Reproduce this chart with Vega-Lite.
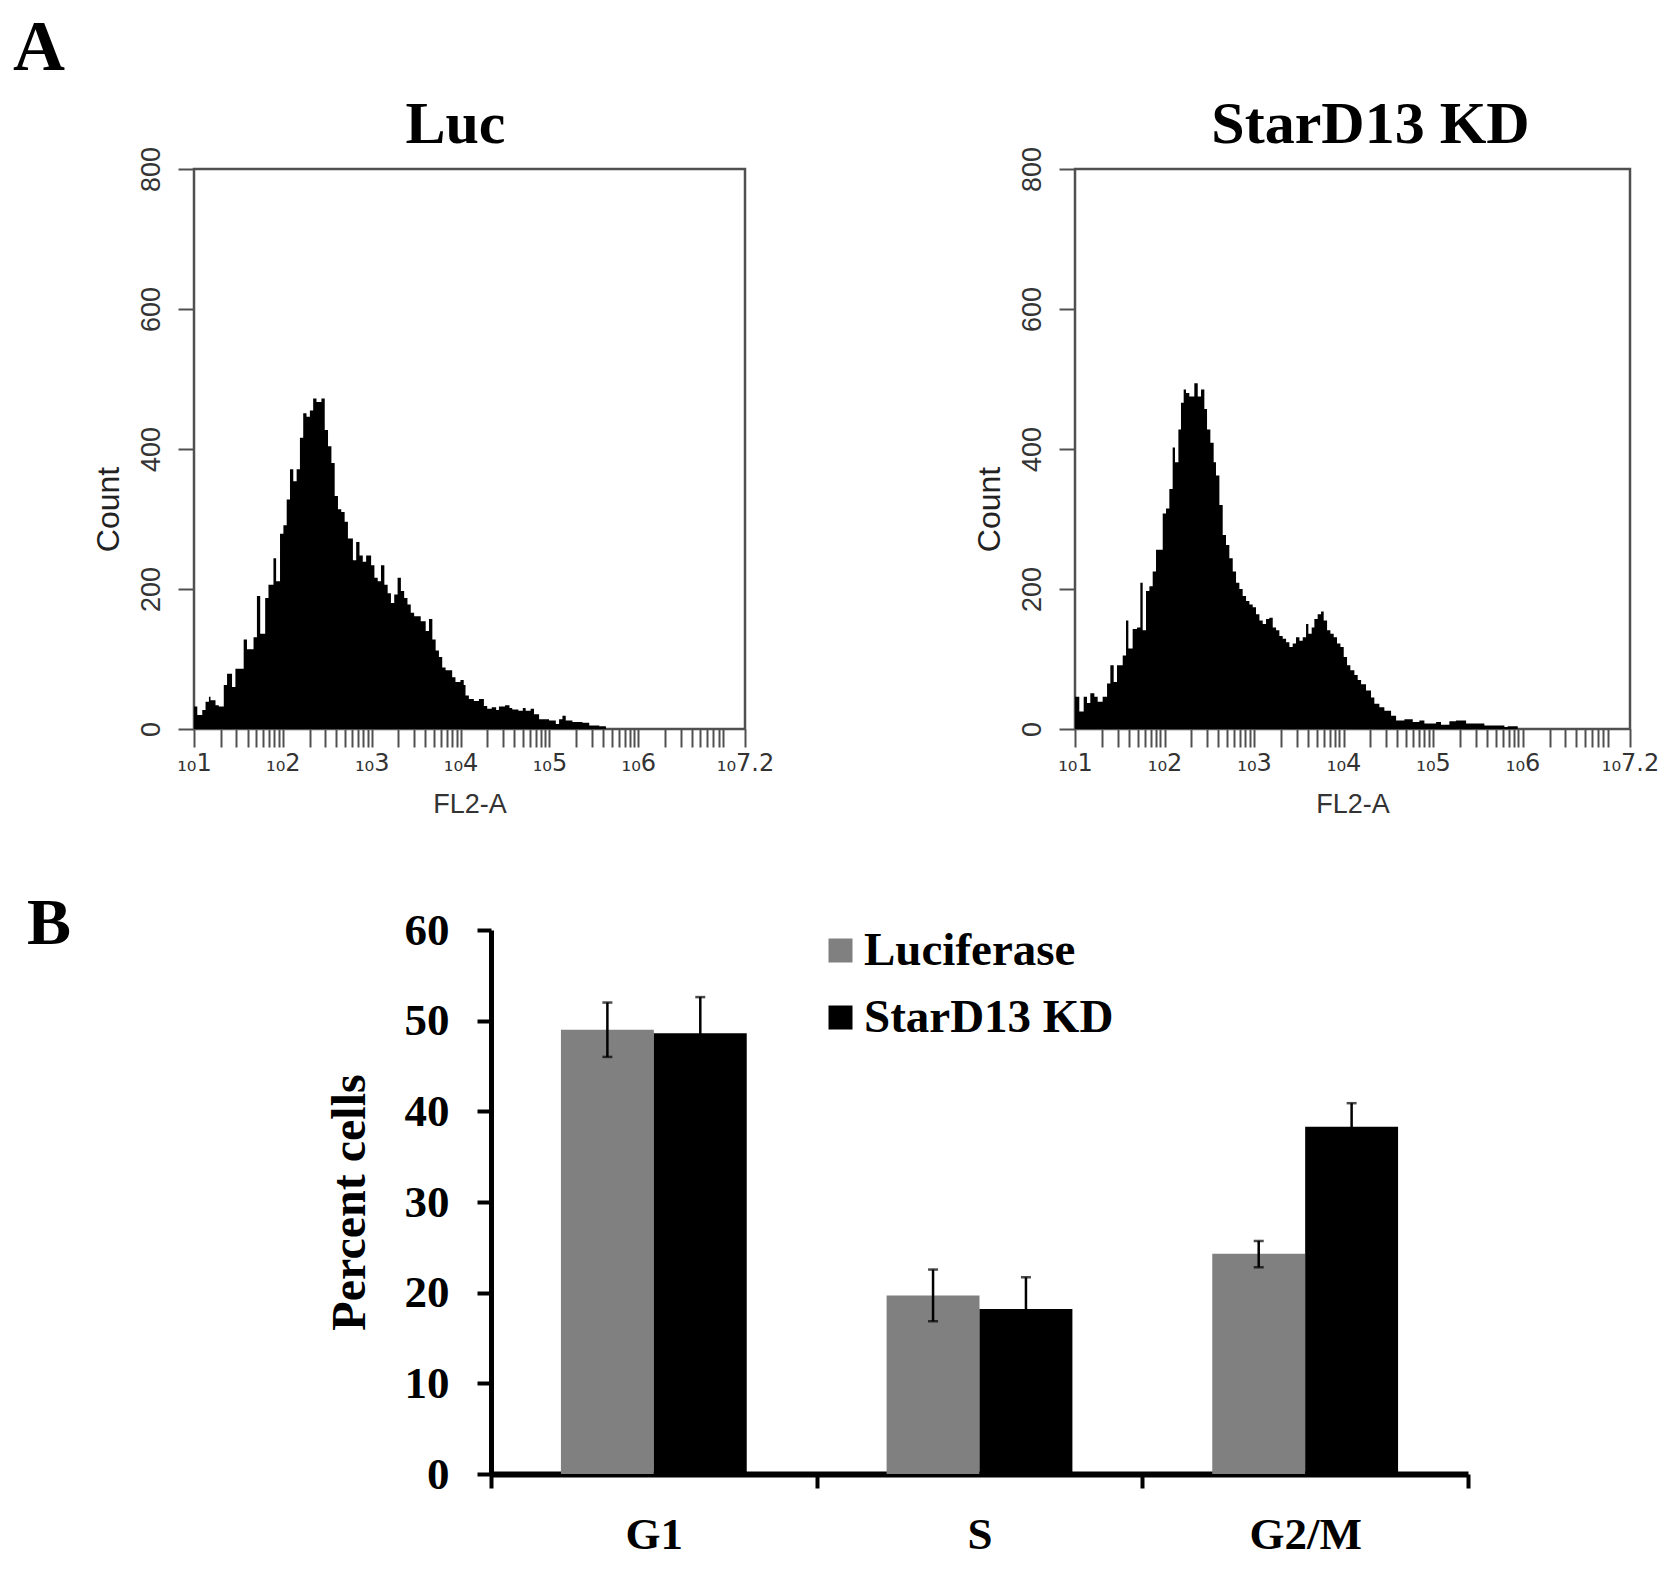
{
  "$schema": "https://vega.github.io/schema/vega-lite/v6.json",
  "background": "white",
  "padding": {"left": 13, "top": 12, "right": 5, "bottom": 5},
  "config": {"view": {"stroke": null}, "font": "Liberation Serif"},
  "datasets": {
    "luc": [
      {"u":1.000,"c":32},{"u":1.037,"c":20},{"u":1.093,"c":27},{"u":1.130,"c":39},{"u":1.168,"c":46},{"u":1.186,"c":41},{"u":1.242,"c":34},{"u":1.279,"c":32},{"u":1.335,"c":63},{"u":1.372,"c":79},{"u":1.428,"c":60},{"u":1.466,"c":86},{"u":1.559,"c":128},{"u":1.596,"c":114},{"u":1.670,"c":131},{"u":1.708,"c":190},{"u":1.745,"c":136},{"u":1.801,"c":187},{"u":1.838,"c":206},{"u":1.894,"c":244},{"u":1.924,"c":211},{"u":1.968,"c":279},{"u":2.006,"c":291},{"u":2.043,"c":328},{"u":2.080,"c":371},{"u":2.117,"c":354},{"u":2.155,"c":371},{"u":2.192,"c":416},{"u":2.229,"c":451},{"u":2.266,"c":446},{"u":2.304,"c":455},{"u":2.341,"c":472},{"u":2.378,"c":467},{"u":2.434,"c":472},{"u":2.471,"c":427},{"u":2.508,"c":404},{"u":2.546,"c":380},{"u":2.583,"c":333},{"u":2.620,"c":314},{"u":2.657,"c":310},{"u":2.695,"c":296},{"u":2.732,"c":272},{"u":2.788,"c":241},{"u":2.825,"c":267},{"u":2.862,"c":248},{"u":2.899,"c":239},{"u":2.937,"c":248},{"u":2.993,"c":234},{"u":3.030,"c":216},{"u":3.067,"c":211},{"u":3.104,"c":234},{"u":3.142,"c":206},{"u":3.179,"c":194},{"u":3.216,"c":180},{"u":3.253,"c":192},{"u":3.291,"c":216},{"u":3.328,"c":197},{"u":3.365,"c":187},{"u":3.402,"c":178},{"u":3.439,"c":166},{"u":3.477,"c":161},{"u":3.551,"c":154},{"u":3.607,"c":140},{"u":3.644,"c":157},{"u":3.682,"c":128},{"u":3.719,"c":112},{"u":3.756,"c":103},{"u":3.793,"c":88},{"u":3.831,"c":84},{"u":3.905,"c":74},{"u":3.942,"c":67},{"u":3.998,"c":70},{"u":4.035,"c":63},{"u":4.055,"c":48},{"u":4.093,"c":43},{"u":4.149,"c":40},{"u":4.206,"c":43},{"u":4.262,"c":33},{"u":4.299,"c":29},{"u":4.350,"c":31},{"u":4.400,"c":27},{"u":4.431,"c":32},{"u":4.500,"c":34},{"u":4.550,"c":30},{"u":4.581,"c":28},{"u":4.650,"c":26},{"u":4.700,"c":30},{"u":4.732,"c":26},{"u":4.788,"c":29},{"u":4.826,"c":21},{"u":4.883,"c":14},{"u":4.995,"c":12},{"u":5.071,"c":7},{"u":5.108,"c":14},{"u":5.146,"c":19},{"u":5.183,"c":12},{"u":5.258,"c":10},{"u":5.371,"c":9},{"u":5.447,"c":5},{"u":5.560,"c":4},{"u":5.635,"c":0},{"u":7.2,"c":0}
    ],
    "kd": [
      {"u":1.000,"c":46},{"u":1.048,"c":25},{"u":1.097,"c":46},{"u":1.134,"c":37},{"u":1.171,"c":51},{"u":1.216,"c":46},{"u":1.253,"c":39},{"u":1.309,"c":46},{"u":1.358,"c":65},{"u":1.395,"c":91},{"u":1.432,"c":67},{"u":1.469,"c":91},{"u":1.533,"c":105},{"u":1.570,"c":155},{"u":1.596,"c":115},{"u":1.644,"c":143},{"u":1.693,"c":145},{"u":1.730,"c":209},{"u":1.756,"c":141},{"u":1.793,"c":197},{"u":1.831,"c":204},{"u":1.868,"c":225},{"u":1.905,"c":256},{"u":1.942,"c":256},{"u":1.980,"c":308},{"u":2.017,"c":315},{"u":2.054,"c":343},{"u":2.091,"c":402},{"u":2.117,"c":381},{"u":2.155,"c":428},{"u":2.184,"c":466},{"u":2.214,"c":485},{"u":2.240,"c":480},{"u":2.277,"c":475},{"u":2.333,"c":494},{"u":2.371,"c":475},{"u":2.408,"c":485},{"u":2.445,"c":457},{"u":2.475,"c":428},{"u":2.512,"c":409},{"u":2.549,"c":381},{"u":2.575,"c":362},{"u":2.613,"c":320},{"u":2.650,"c":277},{"u":2.687,"c":263},{"u":2.724,"c":244},{"u":2.762,"c":225},{"u":2.799,"c":209},{"u":2.836,"c":200},{"u":2.873,"c":190},{"u":2.911,"c":183},{"u":2.948,"c":178},{"u":2.985,"c":174},{"u":3.022,"c":164},{"u":3.060,"c":155},{"u":3.097,"c":150},{"u":3.134,"c":157},{"u":3.171,"c":159},{"u":3.209,"c":145},{"u":3.246,"c":141},{"u":3.283,"c":133},{"u":3.320,"c":129},{"u":3.358,"c":124},{"u":3.395,"c":117},{"u":3.432,"c":122},{"u":3.469,"c":131},{"u":3.507,"c":126},{"u":3.544,"c":131},{"u":3.581,"c":150},{"u":3.607,"c":136},{"u":3.644,"c":145},{"u":3.674,"c":157},{"u":3.711,"c":164},{"u":3.749,"c":168},{"u":3.778,"c":155},{"u":3.816,"c":141},{"u":3.853,"c":136},{"u":3.890,"c":131},{"u":3.927,"c":122},{"u":3.965,"c":117},{"u":4.002,"c":103},{"u":4.039,"c":91},{"u":4.076,"c":84},{"u":4.121,"c":77},{"u":4.158,"c":70},{"u":4.196,"c":64},{"u":4.251,"c":55},{"u":4.307,"c":45},{"u":4.344,"c":36},{"u":4.400,"c":31},{"u":4.456,"c":26},{"u":4.531,"c":19},{"u":4.587,"c":12},{"u":4.680,"c":14},{"u":4.773,"c":10},{"u":4.847,"c":12},{"u":4.903,"c":8},{"u":5.034,"c":10},{"u":5.089,"c":6},{"u":5.182,"c":11},{"u":5.257,"c":12},{"u":5.369,"c":8},{"u":5.573,"c":5},{"u":5.797,"c":3},{"u":5.834,"c":4},{"u":5.946,"c":0},{"u":7.2,"c":0}
    ],
    "bars": [
      {"phase":"G1","group":"Luciferase","value":49.0,"lo":46.0,"hi":52.0},
      {"phase":"G1","group":"StarD13 KD","value":48.6,"lo":44.6,"hi":52.6},
      {"phase":"S","group":"Luciferase","value":19.7,"lo":16.85,"hi":22.55},
      {"phase":"S","group":"StarD13 KD","value":18.2,"lo":14.7,"hi":21.7},
      {"phase":"G2/M","group":"Luciferase","value":24.3,"lo":22.8,"hi":25.7},
      {"phase":"G2/M","group":"StarD13 KD","value":38.3,"lo":35.7,"hi":40.9}
    ]
  },
  "spacing": 72,
  "resolve": {"legend": {"color": "independent"}, "scale": {"color": "independent"}},
  "vconcat": [
    {
      "title": {"text": "A", "anchor": "start", "frame": "group", "fontSize": 72, "font": "Liberation Serif", "fontWeight": "bold", "color": "black", "dx": -181, "offset": 9},
      "spacing": 196,
      "hconcat": [
        {
          "width": 551, "height": 560,
          "title": {"text": "Luc", "fontSize": 60, "font": "Liberation Serif", "fontWeight": "bold", "color": "black", "anchor": "middle", "dx": -14, "offset": -57, "baseline": "alphabetic"},
          "view": {"stroke": "#505050", "strokeWidth": 2.5},
          "data": {"name": "luc"},
          "mark": {"type": "area", "interpolate": "step-after", "color": "black"},
          "encoding": {
            "x": {"field": "u", "type": "quantitative", "scale": {"domain": [1, 7.2], "nice": false, "zero": false},
              "axis": {"title": "FL2-A", "values": [1,1.301,1.477,1.602,1.699,1.778,1.845,1.903,1.954,2,2.301,2.477,2.602,2.699,2.778,2.845,2.903,2.954,3,3.301,3.477,3.602,3.699,3.778,3.845,3.903,3.954,4,4.301,4.477,4.602,4.699,4.778,4.845,4.903,4.954,5,5.301,5.477,5.602,5.699,5.778,5.845,5.903,5.954,6,6.301,6.477,6.602,6.699,6.778,6.845,6.903,6.954,7.2],
                "labelExpr": "datum.value == 7.2 ? '₁₀7.2' : (datum.value == floor(datum.value) ? '₁₀' + datum.value : '')",
                "domain": false, "grid": false, "tickColor": "#505050", "tickWidth": 2, "tickSize": 18,
                "labelFont": "DejaVu Sans", "labelFontSize": 24, "labelColor": "#333", "labelPadding": 4, "labelFlush": false, "labelOverlap": false,
                "titleFont": "Liberation Sans", "titleFontSize": 27, "titleFontWeight": "normal", "titleColor": "#333", "titlePadding": 16}},
            "y": {"field": "c", "type": "quantitative", "scale": {"domain": [0, 800], "nice": false},
              "axis": {"title": "Count", "values": [0,200,400,600,800], "domain": false, "grid": false, "tickColor": "#505050", "tickWidth": 2, "tickSize": 16,
                "labelFont": "Liberation Sans", "labelFontSize": 27, "labelAngle": 270, "labelAlign": "center", "labelBaseline": "alphabetic", "labelPadding": 19, "labelColor": "#333",
                "titleFont": "Liberation Sans", "titleFontSize": 32, "titleFontWeight": "normal", "titleColor": "#222", "titleAngle": 270, "titleX": -86, "titleY": 340, "titleAlign": "center", "titleBaseline": "middle"}}
          }
        },
        {
          "width": 555, "height": 560,
          "title": {"text": "StarD13 KD", "fontSize": 60, "font": "Liberation Serif", "fontWeight": "bold", "color": "black", "anchor": "middle", "dx": 18, "offset": -57, "baseline": "alphabetic"},
          "view": {"stroke": "#505050", "strokeWidth": 2.5},
          "data": {"name": "kd"},
          "mark": {"type": "area", "interpolate": "step-after", "color": "black"},
          "encoding": {
            "x": {"field": "u", "type": "quantitative", "scale": {"domain": [1, 7.2], "nice": false, "zero": false},
              "axis": {"title": "FL2-A", "values": [1,1.301,1.477,1.602,1.699,1.778,1.845,1.903,1.954,2,2.301,2.477,2.602,2.699,2.778,2.845,2.903,2.954,3,3.301,3.477,3.602,3.699,3.778,3.845,3.903,3.954,4,4.301,4.477,4.602,4.699,4.778,4.845,4.903,4.954,5,5.301,5.477,5.602,5.699,5.778,5.845,5.903,5.954,6,6.301,6.477,6.602,6.699,6.778,6.845,6.903,6.954,7.2],
                "labelExpr": "datum.value == 7.2 ? '₁₀7.2' : (datum.value == floor(datum.value) ? '₁₀' + datum.value : '')",
                "domain": false, "grid": false, "tickColor": "#505050", "tickWidth": 2, "tickSize": 18,
                "labelFont": "DejaVu Sans", "labelFontSize": 24, "labelColor": "#333", "labelPadding": 4, "labelFlush": false, "labelOverlap": false,
                "titleFont": "Liberation Sans", "titleFontSize": 27, "titleFontWeight": "normal", "titleColor": "#333", "titlePadding": 16}},
            "y": {"field": "c", "type": "quantitative", "scale": {"domain": [0, 800], "nice": false},
              "axis": {"title": "Count", "values": [0,200,400,600,800], "domain": false, "grid": false, "tickColor": "#505050", "tickWidth": 2, "tickSize": 16,
                "labelFont": "Liberation Sans", "labelFontSize": 27, "labelAngle": 270, "labelAlign": "center", "labelBaseline": "alphabetic", "labelPadding": 19, "labelColor": "#333",
                "titleFont": "Liberation Sans", "titleFontSize": 32, "titleFontWeight": "normal", "titleColor": "#222", "titleAngle": 270, "titleX": -86, "titleY": 340, "titleAlign": "center", "titleBaseline": "middle"}}
          }
        }
      ]
    },
    {
      "spacing": 122,
      "resolve": {"legend": {"color": "independent"}, "scale": {"color": "independent"}},
      "hconcat": [
        {
          "width": 10, "height": 10,
          "title": {"text": "B", "anchor": "start", "frame": "group", "fontSize": 66, "font": "Liberation Serif", "fontWeight": "bold", "color": "black", "dx": -167, "offset": -80, "baseline": "alphabetic"},
          "data": {"values": [{"k": 1}]},
          "mark": {"type": "point", "opacity": 0}
        },
        {
          "width": 977, "height": 544,
          "data": {"name": "bars"},
          "encoding": {
            "x": {"field": "phase", "type": "nominal", "sort": ["G1", "S", "G2/M"], "scale": {"paddingInner": 0, "paddingOuter": 0},
              "axis": {"title": null, "labelAngle": 0, "domainColor": "black", "domainWidth": 6, "tickBand": "extent", "tickColor": "black", "tickWidth": 4, "tickSize": 14,
                "labelFont": "Liberation Serif", "labelFontSize": 45, "labelFontWeight": "bold", "labelColor": "black", "labelPadding": 24}},
            "xOffset": {"field": "group", "type": "nominal", "sort": ["Luciferase", "StarD13 KD"], "scale": {"paddingInner": 0, "paddingOuter": 0.7527}}
          },
          "layer": [
            {
              "mark": {"type": "bar"},
              "encoding": {
                "y": {"field": "value", "type": "quantitative", "scale": {"domain": [0, 60], "nice": false},
                  "axis": {"title": "Percent cells", "values": [0,10,20,30,40,50,60], "grid": false, "domainColor": "black", "domainWidth": 5, "tickColor": "black", "tickWidth": 4, "tickSize": 14,
                    "labelFont": "Liberation Serif", "labelFontSize": 45, "labelFontWeight": "bold", "labelColor": "black", "labelPadding": 28,
                    "titleFont": "Liberation Serif", "titleFontSize": 48, "titleFontWeight": "bold", "titleColor": "black", "titlePadding": 30}},
                "color": {"field": "group", "type": "nominal", "scale": {"domain": ["Luciferase", "StarD13 KD"], "range": ["#808080", "#000000"]},
                  "legend": {"orient": "none", "legendX": 326, "legendY": -3, "title": null, "symbolType": "square", "symbolSize": 576, "symbolStrokeWidth": 0, "symbolOpacity": 1, "labelLimit": 0,
                    "labelFont": "Liberation Serif", "labelFontSize": 47, "labelFontWeight": "bold", "labelColor": "black", "labelOffset": 0, "rowPadding": 19}}
              }
            },
            {
              "mark": {"type": "rule", "color": "black", "strokeWidth": 2.5},
              "encoding": {"y": {"field": "lo", "type": "quantitative", "title": "Percent cells"}, "y2": {"field": "hi"}}
            },
            {
              "mark": {"type": "tick", "color": "black", "thickness": 2.5, "size": 10},
              "encoding": {"y": {"field": "lo", "type": "quantitative", "title": "Percent cells"}}
            },
            {
              "mark": {"type": "tick", "color": "black", "thickness": 2.5, "size": 10},
              "encoding": {"y": {"field": "hi", "type": "quantitative", "title": "Percent cells"}}
            }
          ]
        }
      ]
    }
  ]
}
